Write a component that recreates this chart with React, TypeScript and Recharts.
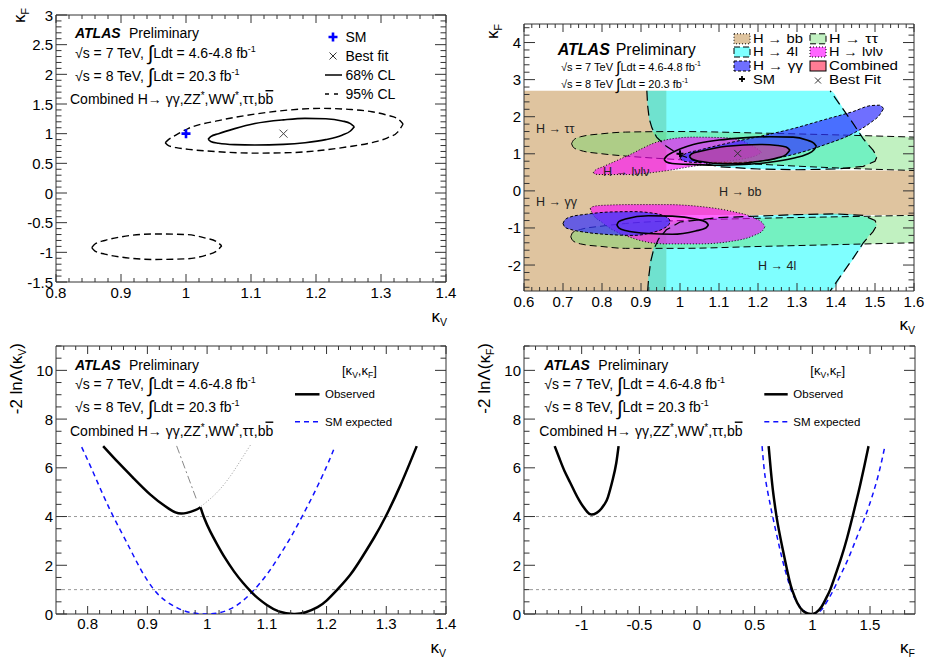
import React from "react";
import {
  Area,
  ComposedChart,
  Line,
  ReferenceArea,
  ReferenceLine,
  Scatter,
  XAxis,
  YAxis,
} from "recharts";

const W = 930;
const H = 662;
const FONT = "'Liberation Sans', Arial, Helvetica, sans-serif";
const AXIS = "#333";

type Tri = [number, number, number];
type Pt = [number, number];
type Box = { l: number; t: number; r: number; b: number };

// ---------- top left: kV-kF contours of the combination
const P1_X_MAJOR = [0.8, 0.9, 1.0, 1.1, 1.2, 1.3, 1.4];
const P1_X_LABELS = ["0.8", "0.9", "1", "1.1", "1.2", "1.3", "1.4"];
const P1_Y_MAJOR = [-1.5, -1, -0.5, 0, 0.5, 1, 1.5, 2, 2.5, 3];
const P1_Y_LABELS = ["-1.5", "-1", "-0.5", "0", "0.5", "1", "1.5", "2", "2.5", "3"];

// [kV, kF low, kF high]
const CL68: Tri[] = [
  [1.034, 0.905, 0.905], [1.038, 0.868, 0.95], [1.05, 0.838, 1.0], [1.075, 0.815, 1.085],
  [1.106, 0.809, 1.17], [1.15, 0.82, 1.232], [1.183, 0.848, 1.258], [1.215, 0.9, 1.252],
  [1.24, 0.975, 1.215], [1.253, 1.045, 1.17], [1.259, 1.117, 1.117],
];
const CL95_UP: Tri[] = [
  [0.968, 0.848, 0.848], [0.973, 0.8, 0.9], [0.985, 0.765, 0.98], [1.004, 0.736, 1.09],
  [1.05, 0.695, 1.22], [1.106, 0.672, 1.33], [1.16, 0.68, 1.4], [1.209, 0.72, 1.427],
  [1.25, 0.78, 1.41], [1.286, 0.85, 1.37], [1.31, 0.93, 1.31], [1.326, 1.03, 1.25],
  [1.334, 1.163, 1.163],
];
const CL95_DN: Tri[] = [
  [0.855, -0.92, -0.92], [0.86, -0.98, -0.86], [0.875, -1.03, -0.8], [0.9, -1.08, -0.74],
  [0.95, -1.12, -0.69], [1.0, -1.11, -0.7], [1.03, -1.05, -0.76], [1.047, -0.98, -0.82],
  [1.055, -0.89, -0.89],
];
const SM_POINT: Pt[] = [[1, 1]];
const BEST_FIT: Pt[] = [[1.15, 1.0]];

// ---------- top right: per-channel contours
const P2_X_MAJOR = [0.6, 0.7, 0.8, 0.9, 1.0, 1.1, 1.2, 1.3, 1.4, 1.5, 1.6];
const P2_X_LABELS = ["0.6", "0.7", "0.8", "0.9", "1", "1.1", "1.2", "1.3", "1.4", "1.5", "1.6"];
const P2_Y_MAJOR = [-2, -1, 0, 1, 2, 3, 4];
const P2_Y_LABELS = ["-2", "-1", "0", "1", "2", "3", "4"];

const BB_REGION: Tri[] = [
  [0.6, -2.7, 2.7], [0.965, -2.7, 2.7], [0.9651, -0.65, 0.55], [1.6, -0.65, 0.55],
];
const ZZ_UP: Tri[] = [
  [0.915, 2.6, 2.7], [0.92, 2.0, 2.7], [0.93, 1.6, 2.7], [0.96, 1.2, 2.7], [1.0, 0.97, 2.7],
  [1.05, 0.77, 2.7], [1.1, 0.65, 2.7], [1.2, 0.59, 2.7], [1.3, 0.57, 2.7], [1.385, 0.58, 2.7],
  [1.42, 0.6, 2.2], [1.457, 0.66, 1.65], [1.49, 0.75, 1.15], [1.505, 0.92, 0.92],
];
const ZZ_DN: Tri[] = [
  [0.917, -2.7, -2.6], [0.922, -2.7, -2.0], [0.932, -2.7, -1.55], [0.96, -2.7, -1.05],
  [1.0, -2.7, -0.84], [1.1, -2.7, -0.72], [1.3, -2.7, -0.64], [1.385, -2.7, -0.62],
  [1.42, -2.2, -0.62], [1.457, -1.65, -0.66], [1.49, -1.12, -0.76], [1.505, -0.92, -0.92],
];
const ZZ_UP_EDGE: Pt[] = [
  [0.915, 2.7], [0.917, 2.3], [0.921, 1.95], [0.928, 1.7], [0.94, 1.45], [0.965, 1.2],
  [1.0, 0.97], [1.05, 0.77], [1.1, 0.65], [1.2, 0.59], [1.3, 0.57], [1.4, 0.59],
  [1.47, 0.66], [1.5, 0.8], [1.505, 0.92], [1.495, 1.1], [1.47, 1.4], [1.445, 1.8],
  [1.415, 2.25], [1.385, 2.7],
];
const ZZ_DN_EDGE: Pt[] = [
  [0.917, -2.7], [0.92, -2.3], [0.925, -1.9], [0.932, -1.6], [0.945, -1.3], [0.965, -1.05],
  [1.0, -0.84], [1.1, -0.72], [1.3, -0.64], [1.4, -0.62], [1.47, -0.66], [1.5, -0.8],
  [1.505, -0.92], [1.495, -1.1], [1.47, -1.4], [1.445, -1.8], [1.415, -2.25], [1.385, -2.7],
];
const TT_UP: Tri[] = [
  [0.722, 1.27, 1.27], [0.727, 1.17, 1.37], [0.745, 1.09, 1.46], [0.8, 1.0, 1.54],
  [0.86, 0.94, 1.585], [1.0, 0.84, 1.6], [1.2, 0.72, 1.56], [1.4, 0.62, 1.51], [1.6, 0.55, 1.45],
];
const TT_DN: Tri[] = [
  [0.72, -1.24, -1.24], [0.725, -1.34, -1.12], [0.745, -1.43, -1.04], [0.8, -1.5, -0.95],
  [0.86, -1.55, -0.88], [1.0, -1.55, -0.8], [1.2, -1.5, -0.74], [1.4, -1.45, -0.7],
  [1.6, -1.4, -0.66],
];
const WW_UP: Tri[] = [
  [0.778, 0.49, 0.49], [0.783, 0.45, 0.56], [0.8, 0.44, 0.64], [0.863, 0.44, 0.935],
  [0.949, 0.52, 1.34], [1.034, 0.665, 1.45], [1.12, 0.8, 1.43], [1.17, 0.88, 1.3],
  [1.197, 0.96, 1.14], [1.21, 1.04, 1.04],
];
const WW_DN: Tri[] = [
  [0.77, -0.48, -0.48], [0.775, -0.6, -0.43], [0.8, -0.85, -0.39], [0.88, -1.28, -0.37],
  [0.962, -1.43, -0.37], [1.05, -1.43, -0.42], [1.132, -1.36, -0.55], [1.19, -1.2, -0.73],
  [1.212, -1.07, -0.87], [1.218, -0.96, -0.96],
];
const GG_UP: Tri[] = [
  [1.0, 0.88, 0.88], [1.01, 0.8, 0.98], [1.05, 0.76, 1.1], [1.12, 0.76, 1.28],
  [1.2, 0.8, 1.46], [1.29, 0.98, 1.68], [1.37, 1.24, 1.92], [1.444, 1.55, 2.14],
  [1.49, 1.85, 2.3], [1.512, 2.05, 2.31], [1.522, 2.22, 2.22],
];
const GG_DN: Tri[] = [
  [0.7, -0.88, -0.88], [0.705, -0.98, -0.78], [0.72, -1.04, -0.7], [0.76, -1.12, -0.63],
  [0.82, -1.18, -0.57], [0.88, -1.2, -0.56], [0.93, -1.12, -0.6], [0.96, -1.0, -0.68],
  [0.972, -0.9, -0.76], [0.975, -0.83, -0.83],
];
const COMB68: Tri[] = [
  [1.024, 0.935, 0.935], [1.03, 0.86, 1.0], [1.05, 0.8, 1.06], [1.12, 0.73, 1.205],
  [1.205, 0.8, 1.25], [1.25, 0.89, 1.225], [1.272, 0.98, 1.18], [1.282, 1.1, 1.1],
];
const COMB95_UP: Tri[] = [
  [0.959, 0.85, 0.85], [0.965, 0.78, 0.93], [0.98, 0.74, 1.03], [1.034, 0.71, 1.25],
  [1.1, 0.69, 1.37], [1.162, 0.71, 1.43], [1.23, 0.77, 1.46], [1.29, 0.88, 1.45],
  [1.325, 0.99, 1.37], [1.343, 1.1, 1.29], [1.35, 1.2, 1.2],
];
const COMB95_DN: Tri[] = [
  [0.838, -0.92, -0.92], [0.843, -1.0, -0.83], [0.86, -1.07, -0.76], [0.919, -1.15, -0.67],
  [0.98, -1.17, -0.68], [1.04, -1.08, -0.76], [1.066, -1.0, -0.84], [1.073, -0.92, -0.92],
];
const P2_SM: Pt[] = [[1.0, 1.0]];
const P2_BEST: Pt[] = [[1.148, 1.01]];

// ---------- bottom: 1D profiles
const P3_X_MAJOR = [0.8, 0.9, 1.0, 1.1, 1.2, 1.3, 1.4];
const P3_X_LABELS = ["0.8", "0.9", "1", "1.1", "1.2", "1.3", "1.4"];
const NLL_Y_MAJOR = [0, 2, 4, 6, 8, 10];
const NLL_Y_LABELS = ["0", "2", "4", "6", "8", "10"];

const KV_OBS_LEFT: Pt[] = [
  [0.826, 6.89], [0.852, 6.2], [0.877, 5.57], [0.905, 4.9], [0.93, 4.42], [0.947, 4.17],
  [0.957, 4.12], [0.966, 4.15], [0.98, 4.26], [0.989, 4.38],
];
const KV_OBS_RIGHT: Pt[] = [
  [0.989, 4.38], [0.995, 3.95], [1.005, 3.4], [1.017, 2.85], [1.03, 2.3], [1.045, 1.75],
  [1.06, 1.28], [1.073, 0.93], [1.085, 0.65], [1.1, 0.37], [1.12, 0.11], [1.145, 0],
  [1.165, 0.07], [1.185, 0.28], [1.2, 0.55], [1.218, 1.0], [1.24, 1.62], [1.26, 2.35],
  [1.28, 3.15], [1.299, 4.0], [1.324, 5.3], [1.351, 6.89],
];
const KV_EXP: Pt[] = [
  [0.79, 6.85], [0.805, 6.05], [0.822, 5.1], [0.843, 4.0], [0.87, 2.72], [0.89, 1.78],
  [0.911, 1.0], [0.93, 0.55], [0.95, 0.25], [0.97, 0.07], [0.99, 0.005], [1.003, 0],
  [1.02, 0.05], [1.04, 0.22], [1.06, 0.55], [1.079, 1.0], [1.1, 1.62], [1.12, 2.35],
  [1.14, 3.15], [1.159, 4.0], [1.18, 5.0], [1.2, 6.05], [1.212, 6.75],
];
const KV_BRANCH_DASHDOT: Pt[] = [[0.949, 6.9], [0.982, 4.72]];
const KV_BRANCH_DOT: Pt[] = [[0.99, 4.42], [1.017, 5.0], [1.04, 5.7], [1.056, 6.3], [1.073, 6.95]];

const P4_X_MAJOR = [-1, -0.5, 0, 0.5, 1, 1.5];
const P4_X_LABELS = ["-1", "-0.5", "0", "0.5", "1", "1.5"];
const KF_OBS_NEG: Pt[] = [
  [-1.234, 6.89], [-1.19, 6.35], [-1.148, 5.86], [-1.1, 5.4], [-1.061, 5.02], [-1.02, 4.65],
  [-0.989, 4.42], [-0.95, 4.18], [-0.917, 4.08], [-0.87, 4.15], [-0.83, 4.32], [-0.8, 4.52],
  [-0.772, 4.8], [-0.729, 5.55], [-0.7, 6.2], [-0.68, 6.89],
];
const KF_OBS_POS: Pt[] = [
  [0.621, 6.89], [0.64, 5.9], [0.66, 5.0], [0.68, 4.3], [0.7, 3.7], [0.75, 2.5], [0.8, 1.4],
  [0.824, 1.0], [0.87, 0.45], [0.92, 0.12], [0.96, 0.02], [0.988, 0], [1.03, 0.05],
  [1.08, 0.3], [1.12, 0.65], [1.155, 1.0], [1.2, 1.6], [1.25, 2.3], [1.3, 3.1], [1.349, 4.0],
  [1.4, 5.0], [1.45, 6.05], [1.487, 6.89],
];
const KF_EXP: Pt[] = [
  [0.564, 6.89], [0.58, 6.05], [0.6, 5.35], [0.63, 4.6], [0.656, 4.0], [0.7, 3.05], [0.75, 2.05],
  [0.815, 1.0], [0.86, 0.55], [0.9, 0.25], [0.95, 0.05], [0.99, 0], [1.05, 0.06], [1.1, 0.3],
  [1.15, 0.7], [1.184, 1.0], [1.25, 1.65], [1.3, 2.15], [1.35, 2.72], [1.4, 3.32], [1.458, 4.0],
  [1.52, 4.85], [1.58, 5.85], [1.629, 6.89],
];
const NLL_LEVELS = [1, 4];

const band = (rows: Tri[]) => rows.map(([x, lo, hi]) => ({ x, r: [lo, hi] }));
const xy = (rows: Pt[]) => rows.map(([x, y]) => ({ x, y }));

function subTicks(major: number[], sub: number, lo: number, hi: number) {
  const step = (major[1] - major[0]) / sub;
  const out: number[] = [];
  for (let k = -sub * 40; k <= sub * 40; k++) {
    const v = Math.round((major[0] + k * step) * 1e6) / 1e6;
    if (v >= lo - 1e-9 && v <= hi + 1e-9) out.push(v);
  }
  return out;
}

function xTick(box: Box, major: number[], labels: string[], labelY: number) {
  return (p: any) => {
    const v = p.payload.value;
    const i = major.findIndex((m) => Math.abs(m - v) < 1e-6);
    const len = i >= 0 ? 8 : 4;
    return (
      <g>
        <line x1={p.x} x2={p.x} y1={box.b} y2={box.b - len} stroke={AXIS} />
        <line x1={p.x} x2={p.x} y1={box.t} y2={box.t + len} stroke={AXIS} />
        {i >= 0 && (
          <text x={p.x} y={labelY} textAnchor="middle" fontSize={15} fontFamily={FONT} fill="#000">
            {labels[i]}
          </text>
        )}
      </g>
    );
  };
}

function yTick(box: Box, major: number[], labels: string[]) {
  return (p: any) => {
    const v = p.payload.value;
    const i = major.findIndex((m) => Math.abs(m - v) < 1e-6);
    const len = i >= 0 ? 11 : 5.5;
    return (
      <g>
        <line x1={box.l} x2={box.l + len} y1={p.y} y2={p.y} stroke={AXIS} />
        <line x1={box.r} x2={box.r - len} y1={p.y} y2={p.y} stroke={AXIS} />
        {i >= 0 && (
          <text x={box.l - 3} y={p.y + 5.5} textAnchor="end" fontSize={15} fontFamily={FONT} fill="#000">
            {labels[i]}
          </text>
        )}
      </g>
    );
  };
}

type PanelProps = {
  box: Box;
  xDomain: [number, number];
  yDomain: [number, number];
  xMajor: number[];
  xLabels: string[];
  xSub: number;
  yMajor: number[];
  yLabels: string[];
  ySub: number;
  xLabelY: number;
  children?: React.ReactNode;
};

function Panel(props: PanelProps) {
  const { box, xDomain, yDomain } = props;
  const xTicks = subTicks(props.xMajor, props.xSub, xDomain[0], xDomain[1]);
  const yTicks = subTicks(props.yMajor, props.ySub, yDomain[0], yDomain[1]);
  return (
    <div style={{ position: "absolute", left: 0, top: 0 }}>
      <ComposedChart width={W} height={H} margin={{ top: box.t, right: W - box.r, bottom: 0, left: 0 }}>
        <XAxis
          type="number"
          dataKey="x"
          domain={xDomain}
          allowDataOverflow
          ticks={xTicks}
          interval={0}
          height={H - box.b}
          tickLine={false}
          axisLine={false}
          tick={xTick(box, props.xMajor, props.xLabels, props.xLabelY)}
        />
        <YAxis
          type="number"
          dataKey="y"
          domain={yDomain}
          allowDataOverflow
          ticks={yTicks}
          interval={0}
          width={box.l}
          tickLine={false}
          axisLine={false}
          tick={yTick(box, props.yMajor, props.yLabels)}
        />
        {props.children}
        <ReferenceArea
          x1={xDomain[0]}
          x2={xDomain[1]}
          y1={yDomain[0]}
          y2={yDomain[1]}
          fill="none"
          stroke={AXIS}
          strokeWidth={1}
        />
      </ComposedChart>
    </div>
  );
}

const plus = (color: string, s: number, w: number) => (p: any) => (
  <path d={`M${p.cx - s},${p.cy} h${2 * s} M${p.cx},${p.cy - s} v${2 * s}`} stroke={color} strokeWidth={w} fill="none" />
);
const cross = (color: string, s: number) => (p: any) => (
  <path d={`M${p.cx - s},${p.cy - s} L${p.cx + s},${p.cy + s} M${p.cx + s},${p.cy - s} L${p.cx - s},${p.cy + s}`} stroke={color} strokeWidth={1} fill="none" />
);

const BOX1: Box = { l: 56, t: 15, r: 446, b: 282 };
const BOX2: Box = { l: 524, t: 24, r: 914, b: 291 };
const BOX3: Box = { l: 56, t: 346, r: 446, b: 614 };
const BOX4: Box = { l: 524, t: 346, r: 915, b: 614 };

const C_BB = "#dfc49f";
const C_ZZ = "#00ffff";
const C_TT = "#64dc64";
const C_WW = "#ff00ff";
const C_GG = "#3232ff";
const C_COMB = "#ff5070";

function Lumi({ x, y, size, sep }: { x: number; y: number; size: number; sep: string }) {
  const sup = Math.round(size * 0.62);
  return (
    <>
      <text x={x} y={y} fontSize={size}>
        √s = 7 TeV{sep} <tspan fontSize={size * 1.45} dy={size * 0.2}>∫</tspan>
        <tspan dy={-size * 0.2}>Ldt = 4.6-4.8 fb</tspan>
        <tspan fontSize={sup} dy={-size * 0.42}>-1</tspan>
      </text>
      <text x={x} y={y + size * 1.65} fontSize={size}>
        √s = 8 TeV{sep} <tspan fontSize={size * 1.45} dy={size * 0.2}>∫</tspan>
        <tspan dy={-size * 0.2}>Ldt = 20.3 fb</tspan>
        <tspan fontSize={sup} dy={-size * 0.42}>-1</tspan>
      </text>
    </>
  );
}

function Header({ x, y }: { x: number; y: number }) {
  return (
    <g fontSize={14}>
      <text x={x} y={y} fontWeight="bold" fontStyle="italic">ATLAS</text>
      <text x={x + 54} y={y}>Preliminary</text>
      <Lumi x={x} y={y + 19.5} size={14} sep="," />
      <text x={x - 5} y={y + 66}>
        Combined H→ γγ,ZZ<tspan fontSize={10} dy={-5}>*</tspan>
        <tspan dy={5}>,WW</tspan>
        <tspan fontSize={10} dy={-5}>*</tspan>
        <tspan dy={5}>,ττ,b</tspan>
        <tspan style={{ textDecoration: "overline" }}>b</tspan>
      </text>
    </g>
  );
}

function Kappa({ x, y, sub, rotate, size = 17 }: { x: number; y: number; sub: string; rotate?: boolean; size?: number }) {
  return (
    <text
      x={x}
      y={y}
      fontSize={size}
      textAnchor="end"
      transform={rotate ? `rotate(-90 ${x} ${y})` : undefined}
    >
      κ<tspan fontSize={size * 0.62} dy={size * 0.25}>{sub}</tspan>
    </text>
  );
}

function NllTitle({ x, y, sub }: { x: number; y: number; sub: string }) {
  return (
    <text x={x} y={y} fontSize={17} textAnchor="end" transform={`rotate(-90 ${x} ${y})`}>
      -2 lnΛ(κ<tspan fontSize={10.5} dy={4}>{sub}</tspan>
      <tspan dy={-4}>)</tspan>
    </text>
  );
}

function NllLegend({ x, lineX, lineX2 }: { x: number; lineX: number; lineX2: number }) {
  return (
    <g>
      <text x={x + 17} y={374.5} fontSize={13}>
        [κ<tspan fontSize={8.5} dy={3}>V</tspan>
        <tspan dy={-3}>,κ</tspan>
        <tspan fontSize={8.5} dy={3}>F</tspan>
        <tspan dy={-3}>]</tspan>
      </text>
      <line x1={lineX} x2={lineX2} y1={394.3} y2={394.3} stroke="#000" strokeWidth={2.5} />
      <text x={x} y={398.3} fontSize={11.5}>Observed</text>
      <line x1={lineX} x2={lineX2} y1={421.7} y2={421.7} stroke="#1010ff" strokeWidth={1.5} strokeDasharray="5 4" />
      <text x={x} y={425.7} fontSize={11.5}>SM expected</text>
    </g>
  );
}

function LegendBox({ x, y, fill, opacity, dash }: { x: number; y: number; fill: string; opacity: number; dash?: string }) {
  return (
    <g>
      <rect x={x} y={y - 5} width={16} height={10} fill="#fff" />
      <rect x={x} y={y - 5} width={16} height={10} fill={fill} fillOpacity={opacity} stroke="#000" strokeDasharray={dash} />
    </g>
  );
}

function LegText({ x, y, w, children }: { x: number; y: number; w: number; children: React.ReactNode }) {
  return (
    <text x={x} y={y} fontSize={12} textLength={w} lengthAdjust="spacingAndGlyphs">
      {children}
    </text>
  );
}

export default function App() {
  return (
    <div style={{ position: "fixed", left: 0, top: 0, width: W, height: H, background: "#fff", fontFamily: FONT }}>
      {/* top left */}
      <Panel
        box={BOX1}
        xDomain={[0.8, 1.4]}
        yDomain={[-1.5, 3]}
        xMajor={P1_X_MAJOR}
        xLabels={P1_X_LABELS}
        xSub={5}
        yMajor={P1_Y_MAJOR}
        yLabels={P1_Y_LABELS}
        ySub={5}
        xLabelY={297.5}
      >
        <Area data={band(CL95_UP)} dataKey="r" type="monotone" fill="none" stroke="#000" strokeWidth={1.4} strokeDasharray="7 4" isAnimationActive={false} />
        <Area data={band(CL95_DN)} dataKey="r" type="monotone" fill="none" stroke="#000" strokeWidth={1.4} strokeDasharray="7 4" isAnimationActive={false} />
        <Area data={band(CL68)} dataKey="r" type="monotone" fill="none" stroke="#000" strokeWidth={1.6} isAnimationActive={false} />
        <Scatter data={xy(SM_POINT)} shape={plus("#0000ff", 4.5, 2.6)} isAnimationActive={false} />
        <Scatter data={xy(BEST_FIT)} shape={cross("#444", 4)} isAnimationActive={false} />
      </Panel>

      {/* top right */}
      <Panel
        box={BOX2}
        xDomain={[0.6, 1.6]}
        yDomain={[-2.7, 4.5]}
        xMajor={P2_X_MAJOR}
        xLabels={P2_X_LABELS}
        xSub={5}
        yMajor={P2_Y_MAJOR}
        yLabels={P2_Y_LABELS}
        ySub={5}
        xLabelY={307}
      >
        <Area data={band(BB_REGION)} dataKey="r" type="linear" fill={C_BB} fillOpacity={1} stroke="none" isAnimationActive={false} />
        <Area data={band(ZZ_UP)} dataKey="r" type="monotone" fill={C_ZZ} fillOpacity={0.5} stroke="none" isAnimationActive={false} />
        <Area data={band(ZZ_DN)} dataKey="r" type="monotone" fill={C_ZZ} fillOpacity={0.5} stroke="none" isAnimationActive={false} />
        <Line data={xy(ZZ_UP_EDGE)} dataKey="y" type="linear" dot={false} stroke="#000" strokeWidth={1.2} strokeDasharray="10 5" isAnimationActive={false} />
        <Line data={xy(ZZ_DN_EDGE)} dataKey="y" type="linear" dot={false} stroke="#000" strokeWidth={1.2} strokeDasharray="10 5" isAnimationActive={false} />
        <Area data={band(TT_UP)} dataKey="r" type="monotone" fill={C_TT} fillOpacity={0.4} stroke="#000" strokeWidth={1} strokeDasharray="7 4" isAnimationActive={false} />
        <Area data={band(TT_DN)} dataKey="r" type="monotone" fill={C_TT} fillOpacity={0.4} stroke="#000" strokeWidth={1} strokeDasharray="7 4" isAnimationActive={false} />
        <Area data={band(WW_UP)} dataKey="r" type="monotone" fill={C_WW} fillOpacity={0.6} stroke="#000" strokeWidth={1} strokeDasharray="1 2" isAnimationActive={false} />
        <Area data={band(WW_DN)} dataKey="r" type="monotone" fill={C_WW} fillOpacity={0.6} stroke="#000" strokeWidth={1} strokeDasharray="1 2" isAnimationActive={false} />
        <Area data={band(GG_UP)} dataKey="r" type="monotone" fill={C_GG} fillOpacity={0.7} stroke="#000" strokeWidth={1} strokeDasharray="3 2" isAnimationActive={false} />
        <Area data={band(GG_DN)} dataKey="r" type="monotone" fill={C_GG} fillOpacity={0.7} stroke="#000" strokeWidth={1} strokeDasharray="3 2" isAnimationActive={false} />
        <Area data={band(COMB68)} dataKey="r" type="monotone" fill={C_COMB} fillOpacity={0.5} stroke="#000" strokeWidth={1.6} isAnimationActive={false} />
        <Area data={band(COMB95_UP)} dataKey="r" type="monotone" fill="none" stroke="#000" strokeWidth={1.6} isAnimationActive={false} />
        <Area data={band(COMB95_DN)} dataKey="r" type="monotone" fill="none" stroke="#000" strokeWidth={1.6} isAnimationActive={false} />
        <Scatter data={xy(P2_SM)} shape={plus("#000", 3.5, 2)} isAnimationActive={false} />
        <Scatter data={xy(P2_BEST)} shape={cross("#333", 3.5)} isAnimationActive={false} />
      </Panel>

      {/* bottom left */}
      <Panel
        box={BOX3}
        xDomain={[0.747, 1.4]}
        yDomain={[0, 11]}
        xMajor={P3_X_MAJOR}
        xLabels={P3_X_LABELS}
        xSub={5}
        yMajor={NLL_Y_MAJOR}
        yLabels={NLL_Y_LABELS}
        ySub={4}
        xLabelY={629}
      >
        {NLL_LEVELS.map((v) => (
          <ReferenceLine key={v} y={v} stroke="#999" strokeDasharray="3 3" />
        ))}
        <Line data={xy(KV_BRANCH_DASHDOT)} dataKey="y" type="linear" dot={false} stroke="#888" strokeWidth={1} strokeDasharray="8 3 2 3" isAnimationActive={false} />
        <Line data={xy(KV_BRANCH_DOT)} dataKey="y" type="natural" dot={false} stroke="#999" strokeWidth={1} strokeDasharray="1 2" isAnimationActive={false} />
        <Line data={xy(KV_EXP)} dataKey="y" type="natural" dot={false} stroke="#1010ff" strokeWidth={1.5} strokeDasharray="5 4" isAnimationActive={false} />
        <Line data={xy(KV_OBS_LEFT)} dataKey="y" type="natural" dot={false} stroke="#000" strokeWidth={2.5} isAnimationActive={false} />
        <Line data={xy(KV_OBS_RIGHT)} dataKey="y" type="natural" dot={false} stroke="#000" strokeWidth={2.5} isAnimationActive={false} />
      </Panel>

      {/* bottom right */}
      <Panel
        box={BOX4}
        xDomain={[-1.5, 1.89]}
        yDomain={[0, 11]}
        xMajor={P4_X_MAJOR}
        xLabels={P4_X_LABELS}
        xSub={5}
        yMajor={NLL_Y_MAJOR}
        yLabels={NLL_Y_LABELS}
        ySub={4}
        xLabelY={629.5}
      >
        {NLL_LEVELS.map((v) => (
          <ReferenceLine key={v} y={v} stroke="#999" strokeDasharray="3 3" />
        ))}
        <Line data={xy(KF_EXP)} dataKey="y" type="natural" dot={false} stroke="#1010ff" strokeWidth={1.5} strokeDasharray="5 4" isAnimationActive={false} />
        <Line data={xy(KF_OBS_NEG)} dataKey="y" type="natural" dot={false} stroke="#000" strokeWidth={2.5} isAnimationActive={false} />
        <Line data={xy(KF_OBS_POS)} dataKey="y" type="natural" dot={false} stroke="#000" strokeWidth={2.5} isAnimationActive={false} />
      </Panel>

      {/* text layer */}
      <svg width={W} height={H} style={{ position: "absolute", left: 0, top: 0, pointerEvents: "none" }} fontFamily={FONT} fill="#000">
        {/* top left */}
        <Header x={75} y={38} />
        <path d="M328.5,37 h9 M333,32.5 v9" stroke="#0000ff" strokeWidth={2.6} />
        <text x={345.5} y={42} fontSize={14}>SM</text>
        <path d="M329.5,52.5 l7,7 M336.5,52.5 l-7,7" stroke="#333" />
        <text x={345.5} y={61} fontSize={14}>Best fit</text>
        <line x1={325} x2={342} y1={75} y2={75} stroke="#000" strokeWidth={1.5} />
        <text x={345.5} y={80} fontSize={14}>68% CL</text>
        <line x1={325} x2={342} y1={94} y2={94} stroke="#000" strokeWidth={1.5} strokeDasharray="4 5" />
        <text x={345.5} y={99} fontSize={14}>95% CL</text>
        <Kappa x={25} y={8} sub="F" rotate />
        <Kappa x={447} y={322} sub="V" />

        {/* top right */}
        <text x={557.7} y={54.5} fontSize={16} fontWeight="bold" fontStyle="italic">ATLAS</text>
        <text x={615.7} y={54.5} fontSize={16}>Preliminary</text>
        <g>
          <text x={561} y={70.5} fontSize={11}>
            √s = 7 TeV <tspan fontSize={16} dy={2}>∫</tspan>
            <tspan dy={-2}>Ldt = 4.6-4.8 fb</tspan>
            <tspan fontSize={7} dy={-5}>-1</tspan>
          </text>
          <text x={561} y={88} fontSize={11}>
            √s = 8 TeV <tspan fontSize={16} dy={2}>∫</tspan>
            <tspan dy={-2}>Ldt = 20.3 fb</tspan>
            <tspan fontSize={7} dy={-5}>-1</tspan>
          </text>
        </g>
        <LegendBox x={734} y={38.8} fill={C_BB} opacity={1} dash="1 2" />
        <LegText x={753} y={43.2} w={50}>H → bb</LegText>
        <LegendBox x={734} y={52} fill={C_ZZ} opacity={0.5} dash="6 3" />
        <LegText x={753} y={56.4} w={45}>H → 4l</LegText>
        <LegendBox x={734} y={66} fill={C_GG} opacity={0.7} dash="3 2" />
        <LegText x={753} y={70.4} w={50}>H → γγ</LegText>
        <path d="M739,79 h6 M742,76 v6" stroke="#000" strokeWidth={1.8} />
        <LegText x={753} y={83.6} w={22}>SM</LegText>
        <LegendBox x={810} y={38.8} fill={C_TT} opacity={0.4} dash="6 3" />
        <LegText x={829} y={43.2} w={49}>H → ττ</LegText>
        <LegendBox x={810} y={52} fill={C_WW} opacity={0.6} dash="1 2" />
        <LegText x={829} y={56.4} w={54}>H → lνlν</LegText>
        <LegendBox x={810} y={66} fill={C_COMB} opacity={0.75} />
        <LegText x={829} y={70.4} w={69}>Combined</LegText>
        <path d="M815,77.5 l6,6 M821,77.5 l-6,6" stroke="#333" />
        <LegText x={829} y={83.6} w={52}>Best Fit</LegText>
        <g fontSize={12.5} fill="#222">
          <text x={536} y={132.5}>H → ττ</text>
          <text x={603} y={176}>H → lνlν</text>
          <text x={719} y={196}>H → bb</text>
          <text x={536} y={205.5}>H → γγ</text>
          <text x={758} y={270}>H → 4l</text>
        </g>
        <Kappa x={498} y={24} sub="F" rotate />
        <Kappa x={915} y={330} sub="V" />

        {/* bottom left */}
        <Header x={75} y={369.5} />
        <NllLegend x={325} lineX={295} lineX2={319.5} />
        <NllTitle x={22} y={343} sub="V" />
        <Kappa x={446} y={653} sub="V" />

        {/* bottom right */}
        <Header x={544.3} y={369.5} />
        <NllLegend x={793.3} lineX={764.3} lineX2={787.7} />
        <NllTitle x={490} y={343} sub="F" />
        <Kappa x={915} y={653} sub="F" />
      </svg>
    </div>
  );
}
